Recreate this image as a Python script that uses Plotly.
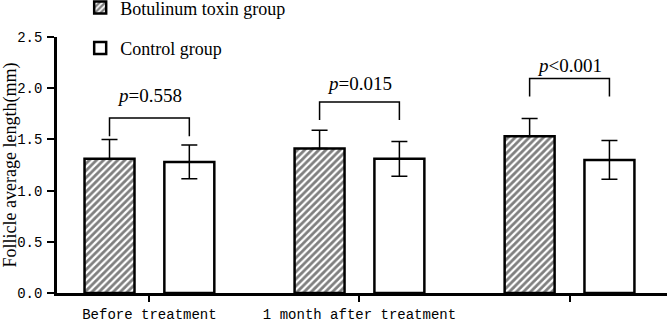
import plotly.graph_objects as go

# ---- data ----
categories = ["Before treatment", "1 month after treatment", "3 months after treatment"]
botox_mean = [1.31, 1.41, 1.53]
botox_sd = [0.19, 0.18, 0.175]
control_mean = [1.28, 1.31, 1.30]
control_sd = [0.165, 0.17, 0.19]
p_labels = ["<i>p</i>=0.558", "<i>p</i>=0.015", "<i>p</i>&lt;0.001"]
bracket_top = [1.71, 1.865, 2.095]
bracket_bottom = [1.53, 1.69, 1.92]
p_label_y = [1.93, 2.05, 2.225]
y_ticks = [0.0, 0.5, 1.0, 1.5, 2.0, 2.5]

x_idx = list(range(len(categories)))
OFFSET = 0.19  # half distance between grouped bar centres (bargap 0.24)

serif = "Liberation Serif"
mono = "Liberation Mono"

fig = go.Figure()

fig.add_trace(go.Bar(
    x=x_idx, y=botox_mean, name="Botulinum toxin group",
    legendgroup="a",
    marker=dict(color="white",
                line=dict(color="black", width=2.5),
                pattern=dict(shape="/", fgcolor="black", bgcolor="white",
                             size=5, solidity=0.55, fillmode="overlay")),
    error_y=dict(type="data", symmetric=False, array=botox_sd,
                 arrayminus=[0] * len(botox_sd),
                 color="black", thickness=1.5, width=8),
))
fig.add_trace(go.Bar(
    x=x_idx, y=control_mean, name="Control group",
    legendgroup="b",
    marker=dict(color="white", line=dict(color="black", width=2.5)),
    error_y=dict(type="data", array=control_sd,
                 color="black", thickness=1.5, width=8),
))

# significance brackets
bx, by = [], []
for i, t, b in zip(x_idx, bracket_top, bracket_bottom):
    bx += [i - OFFSET, i - OFFSET, i + OFFSET, i + OFFSET, None]
    by += [b, t, t, b, None]
fig.add_trace(go.Scatter(x=bx, y=by, mode="lines", showlegend=False,
                         line=dict(color="black", width=1.5),
                         hoverinfo="skip"))

for i, lab, y in zip(x_idx, p_labels, p_label_y):
    fig.add_annotation(x=i, y=y, text=lab, showarrow=False,
                       font=dict(family=serif, size=19, color="black"))

fig.update_layout(
    width=667, height=324,
    margin=dict(l=57, r=0, t=37, b=31, autoexpand=False),
    paper_bgcolor="white", plot_bgcolor="white",
    barmode="group", bargap=0.24, bargroupgap=0.374,
    font=dict(family=serif, color="black"),
    legend=dict(x=0.038, y=1.186, xanchor="left", yanchor="top",
                font=dict(family=serif, size=18, color="black"),
                tracegroupgap=14, bgcolor="rgba(0,0,0,0)"),
    xaxis=dict(range=[-0.44, 2.464], tickvals=x_idx, ticktext=categories,
               showline=True, linewidth=2.5, linecolor="black",
               ticks="outside", ticklen=6, tickwidth=2, tickcolor="black",
               showgrid=False, zeroline=False,
               tickfont=dict(family=mono, size=14, color="black")),
    yaxis=dict(range=[0, 2.5], tickvals=y_ticks,
               ticktext=[f"{v:.1f}" for v in y_ticks],
               showline=True, linewidth=2.5, linecolor="black",
               ticks="outside", ticklen=7, tickwidth=2, tickcolor="black",
               ticklabelstandoff=2,
               showgrid=False, zeroline=False,
               tickfont=dict(family=mono, size=14, color="black"),
               title=dict(text="Follicle average length(mm)",
                          font=dict(family=serif, size=18, color="black"),
                          standoff=6)),
)

fig.write_html("out.html")
